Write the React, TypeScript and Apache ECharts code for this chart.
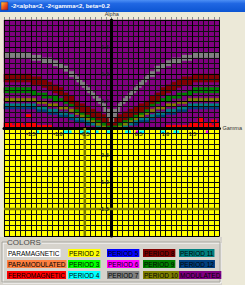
import React, { useEffect, useRef } from "react";
import * as echarts from "echarts";

const titleText = "-2<alpha<2, -2<gamma<2, beta=0.2";
const verticalAxisName = "Alpha";
const horizontalAxisName = "Gamma";
const legendTitle = "COLORS";

const axisMin = -2;
const axisMax = 2;
const majorInterval = 0.5;
const minorInterval = 0.1;
const cellSize = 0.05;
const tickLabels = ["-1.5", "-1.0", "-0.5", "0.5", "1.0", "1.5"];
const highlightedAlpha = -0.5;
const highlightedGamma = -1.5;

const legendNames = [
  "PARAMAGNETIC", "PARAMODULATED", "FERROMAGNETIC",
  "PERIOD 2", "PERIOD 3", "PERIOD 4",
  "PERIOD 5", "PERIOD 6", "PERIOD 7",
  "PERIOD 8", "PERIOD 9", "PERIOD 10",
  "PERIOD 11", "PERIOD 12", "MODULATED",
];
const legendColors = [
  "#FFFFFF", "#FF8040", "#FF0000",
  "#FFFF00", "#00FF00", "#00FFFF",
  "#0000FF", "#FF00FF", "#808080",
  "#800000", "#008000", "#808000",
  "#008080", "#004080", "#800080",
];

const phaseLetters: Record<string, string> = {
  r: "FERROMAGNETIC",
  c: "PERIOD 4",
  m: "PERIOD 6",
  g: "PERIOD 7",
  d: "PERIOD 8",
  n: "PERIOD 9",
  v: "PERIOD 10",
  t: "PERIOD 11",
  k: "PERIOD 12",
};
const upperPhase = "MODULATED";
const lowerPhase = "PERIOD 2";

// run-length rows of 0.05 x 0.05 cells, 80 cells across -2..2
// upperRows[0] is 0..0.05, going upwards
const upperRows = [
  "r18 .16 t2 v2 n4 v2 t2 .14 r20",
  "r3 .1 r3 .1 r4 .18 k2 t2 v2 n2 d4 n2 v2 t2 k2 .18 .1 r3 .1 r4 .1 r2",
  ".26 k4 t2 v2 n2 d3 g2 d3 n2 v2 t2 k4 .18 r2 .3 r2 .1",
  ".24 k2 t4 v2 n2 d5 g2 d5 n2 v2 t4 k2 .16 r2 .6",
  ".8 r2 .10 k4 t2 .2 v2 n2 d6 g4 d6 n2 v2 .2 t2 k4 .20",
  ".16 k4 t4 .2 v2 n2 d6 .2 g4 .2 d6 n2 v2 .2 t4 k4 .16",
  ".12 k4 t4 .4 v2 n2 d6 .3 g6 .3 d6 n2 v2 .4 t4 k4 .12",
  "k12 t4 .4 v4 .2 d6 .5 g1 .4 g1 .5 d6 .2 v4 .4 t4 k12",
  "t12 .4 v4 .4 n2 d4 .6 g2 .4 g2 .6 d4 n2 .4 v4 .4 t12",
  ".12 v4 .6 n2 d4 .7 g2 .6 g2 .7 d4 n2 .6 v4 .12",
  "v12 .6 n4 d4 .8 g2 .8 g2 .8 d4 n4 .6 v12",
  ".14 n6 .2 d4 .7 g2 .10 g2 .7 d4 .2 n6 .14",
  ".10 n6 .4 d4 .8 g2 .12 g2 .8 d4 .4 n6 .10",
  "n12 .6 d4 .9 g2 .14 g2 .9 d4 .6 n12",
  "n10 .6 d6 .8 g2 .16 g2 .8 d6 .6 n10",
  ".14 d6 .9 g2 .18 g2 .9 d6 .14",
  ".10 d8 .10 g2 .20 g2 .10 d8 .10",
  "d16 .11 g2 .22 g2 .11 d16",
  "d14 .12 g2 .24 g2 .12 d14",
  "d10 .14 g3 .26 g3 .14 d10",
  ".24 g2 .28 g2 .24",
  ".22 g2 .32 g2 .22",
  ".20 g4 .32 g4 .20",
  ".18 g4 .36 g4 .18",
  ".14 g6 .40 g6 .14",
  ".10 g8 .44 g8 .10",
  "g14 .52 g14",
  "g10 .60 g10",
];
// lowerRows[0] is -0.05..0, going downwards
const lowerRows = [
  ".80",
  ".12 c1 .9 c3 .3 c4 .2 c1 .3 c2 .5 c2 .2 m1 c2 .6 c2 .3 c2 .10 m1 .4",
];

function buildCells() {
  const idx = (n: string) => legendNames.indexOf(n);
  const cells: number[][] = [
    [axisMin, axisMax, 0, axisMax, idx(upperPhase)],
    [axisMin, axisMax, axisMin, 0, idx(lowerPhase)],
  ];
  const addRow = (row: string, g0: number) => {
    let i = 0;
    row.split(" ").forEach((tok) => {
      const ch = tok[0];
      const n = parseInt(tok.slice(1), 10);
      if (ch !== ".") {
        cells.push([
          axisMin + i * cellSize,
          axisMin + (i + n) * cellSize,
          g0,
          g0 + cellSize,
          idx(phaseLetters[ch]),
        ]);
      }
      i += n;
    });
  };
  upperRows.forEach((r, j) => addRow(r, j * cellSize));
  lowerRows.forEach((r, j) => addRow(r, -(j + 1) * cellSize));
  return cells;
}

export default function App() {
  const ref = useRef<HTMLDivElement>(null);
  useEffect(() => {
    if (!ref.current) return;
    const chart = echarts.init(ref.current, undefined, { renderer: "svg" });
    const cells = buildCells();
    const font = "Liberation Sans";
    const panelColor = "#D6D3CC";

    const legendColX = [7, 68, 107, 143, 179];
    const legendRowY = [249, 260, 271];
    const legendItems: any[] = legendNames.map((name, k) => ({
      type: "text",
      x: legendColX[Math.floor(k / 3)],
      y: legendRowY[k % 3],
      silent: true,
      style: {
        text: name,
        fill: "#000",
        font: `6.5px "${font}"`,
        backgroundColor: legendColors[k],
        padding: [1, 1, 0, 1],
        verticalAlign: "top",
        lineHeight: 7,
      },
    }));

    // tick label items: [alpha, gamma, labelIndex, horizontal(1)/vertical(0)]
    const labelData: number[][] = [];
    tickLabels.forEach((t, k) => labelData.push([parseFloat(t), 0, k, 1]));
    tickLabels.forEach((t, k) => labelData.push([0, parseFloat(t), k, 0]));

    const baseAxis = {
      type: "value",
      min: axisMin,
      max: axisMax,
    };

    const option: any = {
      animation: false,
      backgroundColor: "#ECE9D8",
      grid: { left: 4, top: 20, width: 218, height: 216, containLabel: false },
      xAxis: [
        {
          ...baseAxis,
          interval: majorInterval,
          position: "bottom",
          z: 10,
          name: horizontalAxisName,
          nameLocation: "end",
          nameGap: 3,
          nameTextStyle: { fontSize: 5.5, color: "#333", fontFamily: font },
          axisLine: { onZero: true, lineStyle: { color: "#000", width: 3 } },
          axisTick: { show: false },
          axisLabel: { show: false },
          splitLine: { show: true, lineStyle: { color: "#000", width: 1 } },
        },
        {
          ...baseAxis,
          interval: minorInterval,
          position: "top",
          z: 9,
          axisLine: { show: false, onZero: false },
          axisTick: { show: true, inside: false, length: 3, lineStyle: { color: "#8a8a8a" } },
          axisLabel: { show: false },
          splitLine: { show: true, lineStyle: { color: "#111", width: 1 } },
        },
      ],
      yAxis: [
        {
          ...baseAxis,
          interval: majorInterval,
          position: "left",
          z: 10,
          name: verticalAxisName,
          nameLocation: "end",
          nameGap: 3,
          nameTextStyle: { fontSize: 5.5, color: "#333", fontFamily: font },
          axisLine: { onZero: true, lineStyle: { color: "#000", width: 3 } },
          axisTick: { show: false },
          axisLabel: { show: false },
          splitLine: { show: true, lineStyle: { color: "#000", width: 1 } },
        },
        {
          ...baseAxis,
          interval: minorInterval,
          position: "right",
          z: 9,
          axisLine: { show: false, onZero: false },
          axisTick: { show: false },
          axisLabel: { show: false },
          splitLine: { show: true, lineStyle: { color: "#111", width: 1 } },
        },
      ],
      series: [
        {
          type: "custom",
          xAxisIndex: 0,
          yAxisIndex: 0,
          silent: true,
          encode: { x: [0, 1], y: [2, 3] },
          data: cells,
          renderItem: (params: any, api: any) => {
            const a0 = api.value(0), a1 = api.value(1), g0 = api.value(2), g1 = api.value(3);
            const color = legendColors[api.value(4)];
            const p0 = api.coord([a0, g1]);
            const p1 = api.coord([a1, g0]);
            return {
              type: "rect",
              shape: { x: p0[0], y: p0[1], width: p1[0] - p0[0], height: p1[1] - p0[1] },
              style: { fill: color, stroke: color, lineWidth: 0.5 },
            };
          },
        },
        {
          type: "line",
          z: 11,
          silent: true,
          symbol: "none",
          data: [[highlightedAlpha, axisMin], [highlightedAlpha, 0]],
          lineStyle: { color: "#7a7a00", width: 2.5 },
        },
        {
          type: "line",
          z: 11,
          silent: true,
          symbol: "none",
          data: [[axisMin, highlightedGamma], [axisMax, highlightedGamma]],
          lineStyle: { color: "#7a7a00", width: 2.5 },
        },
        {
          type: "custom",
          z: 20,
          silent: true,
          clip: false,
          encode: { x: 0, y: 1 },
          data: labelData,
          renderItem: (params: any, api: any) => {
            const p = api.coord([api.value(0), api.value(1)]);
            const horizontal = api.value(3) === 1;
            return {
              type: "text",
              x: horizontal ? p[0] : p[0] - 3,
              y: horizontal ? p[1] + 2.5 : p[1],
              style: {
                text: tickLabels[api.value(2)],
                fill: "#222",
                font: `bold 5.5px "${font}"`,
                align: horizontal ? "center" : "right",
                verticalAlign: horizontal ? "top" : "middle",
              },
            };
          },
        },
      ],
      graphic: [
        {
          type: "rect",
          silent: true,
          shape: { x: 0, y: 0, width: 245, height: 12 },
          style: {
            fill: new echarts.graphic.LinearGradient(0, 0, 0, 1, [
              { offset: 0, color: "#4D8FF5" },
              { offset: 0.3, color: "#2067E3" },
              { offset: 1, color: "#0C55D2" },
            ]),
          },
        },
        {
          type: "rect",
          silent: true,
          shape: { x: 1, y: 2, width: 7, height: 8 },
          style: {
            fill: new echarts.graphic.LinearGradient(0, 0, 1, 1, [
              { offset: 0, color: "#FFD23C" },
              { offset: 0.5, color: "#F05A1E" },
              { offset: 1, color: "#B01010" },
            ]),
            stroke: "#203080",
            lineWidth: 0.5,
          },
        },
        {
          type: "text",
          silent: true,
          x: 11,
          y: 6,
          style: {
            text: titleText,
            fill: "#FFFFFF",
            font: `bold 6px "${font}"`,
            verticalAlign: "middle",
          },
        },
        {
          type: "rect",
          silent: true,
          shape: { x: 0, y: 237, width: 222, height: 48 },
          style: { fill: panelColor },
        },
        {
          type: "rect",
          silent: true,
          shape: { x: 3, y: 243, width: 218, height: 40 },
          style: { fill: "none", stroke: "#FFFFFF", lineWidth: 1 },
        },
        {
          type: "rect",
          silent: true,
          shape: { x: 2, y: 242, width: 218, height: 40 },
          style: { fill: "none", stroke: "#A8A7A0", lineWidth: 1 },
        },
        {
          type: "text",
          silent: true,
          x: 7,
          y: 242,
          style: {
            text: legendTitle,
            fill: "#4a4a4a",
            font: `8px "${font}"`,
            verticalAlign: "middle",
            backgroundColor: panelColor,
            padding: [0, 1, 0, 0],
          },
        },
        ...legendItems,
      ],
    };
    chart.setOption(option);
    return () => chart.dispose();
  }, []);
  return (
    <div
      ref={ref}
      style={{ position: "fixed", left: 0, top: 0, width: 245, height: 285 }}
    />
  );
}
